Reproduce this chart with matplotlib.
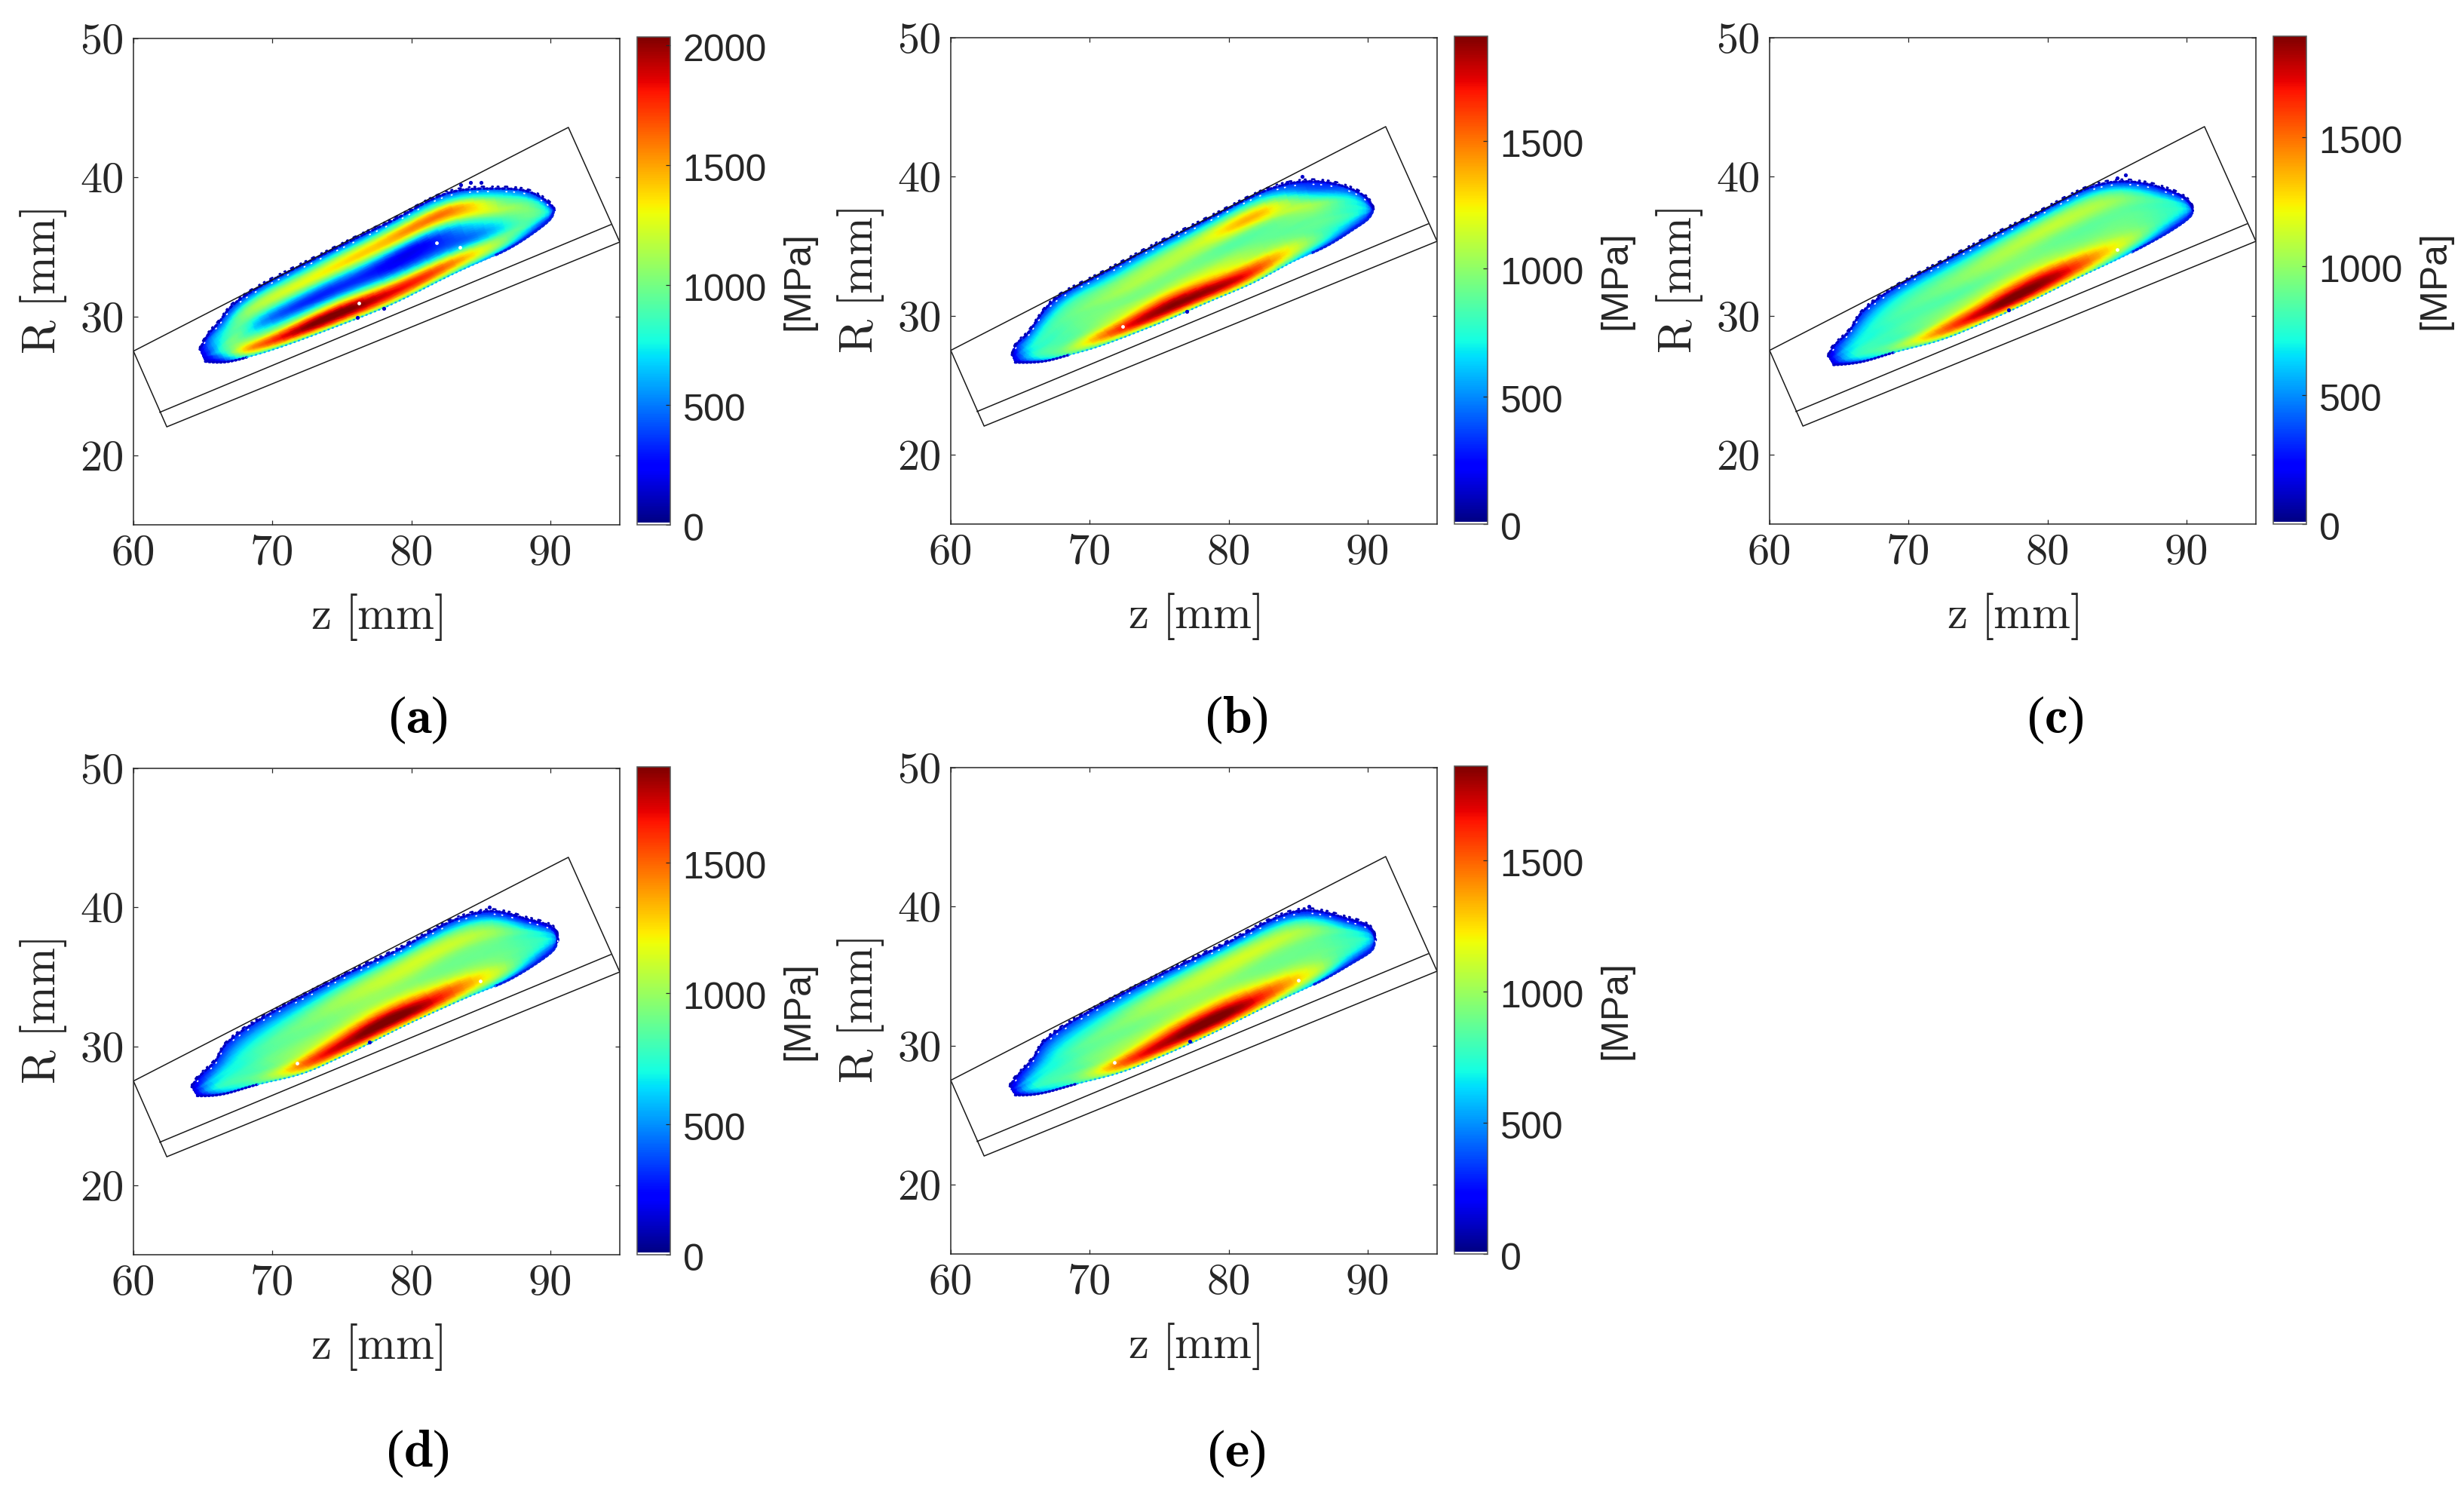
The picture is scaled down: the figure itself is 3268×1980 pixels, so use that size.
import numpy as np
import matplotlib
matplotlib.use('Agg')
import matplotlib.pyplot as plt
import matplotlib.tri as mtri
from matplotlib.transforms import ScaledTranslation

W, H = 3268, 1980

panel_names = ['a', 'b', 'c', 'd', 'e']
vmax_list = [2035, 1910, 1892, 1867, 1858]
xticks = [60, 70, 80, 90]
yticks = [20, 30, 40, 50]
cbar_ticks = [0, 500, 1000, 1500, 2000]

# outline of the box, same in all panels
box_z = [60.0, 91.3, 95.0, 62.4, 60.0]
box_R = [27.5, 43.6, 35.35, 22.05, 27.5]
inner_z = [61.9, 94.35]
inner_R = [23.1, 36.6]

# edges of the stressed region
upper_a = [(64.77, 27.62), (65.45, 28.80), (66.32, 29.80), (67.48, 31.10), (70.10, 32.69), (73.20, 34.23), (76.30, 35.77),
           (79.40, 37.30), (82.49, 38.84), (85.79, 39.20), (88.31, 39.02), (89.86, 38.20), (90.34, 37.66)]
lower_a = [(65.16, 26.75), (66.71, 26.72), (68.16, 27.05), (69.81, 27.53), (72.42, 28.44), (75.52, 29.62), (78.62, 30.88),
           (81.91, 32.51), (84.82, 33.87), (87.14, 34.95), (88.70, 35.95), (89.86, 36.85), (90.24, 37.57)]
upper_b = [(64.40, 27.17), (64.83, 28.08), (65.80, 29.07), (67.35, 31.06), (69.86, 32.51), (72.96, 34.14), (76.06, 35.76),
           (79.16, 37.30), (82.26, 38.84), (85.36, 39.65), (88.07, 39.38), (89.81, 38.57), (90.43, 37.66)]
lower_b = [(64.63, 26.63), (66.76, 26.72), (68.51, 27.17), (70.44, 27.71), (73.16, 28.71), (76.06, 29.89), (79.16, 31.24),
           (82.07, 32.51), (84.78, 33.96), (87.10, 35.04), (88.85, 36.13), (89.91, 36.85), (90.36, 37.48)]
upper_c = [(64.21, 27.08), (64.79, 27.99), (65.86, 29.07), (66.92, 30.52), (69.54, 32.33), (72.64, 33.96), (75.74, 35.58),
           (78.84, 37.12), (81.93, 38.75), (85.03, 39.65), (87.94, 39.29), (89.88, 38.48), (90.50, 37.57)]
lower_c = [(64.60, 26.45), (66.83, 26.72), (68.96, 27.35), (71.47, 27.99), (73.80, 28.80), (76.51, 29.98), (79.22, 31.24),
           (82.13, 32.69), (84.84, 33.96), (87.16, 35.13), (88.91, 36.13), (90.07, 36.94), (90.42, 37.39)]
upper_d = [(64.19, 27.07), (64.87, 27.97), (66.03, 29.15), (67.00, 30.50), (69.90, 32.40), (73.00, 34.03), (75.91, 35.48),
           (79.01, 36.93), (82.30, 38.73), (85.59, 39.73), (87.92, 39.28), (90.05, 38.64), (90.53, 37.56)]
lower_d = [(64.58, 26.43), (66.71, 26.61), (68.94, 27.25), (71.65, 27.88), (73.97, 28.78), (76.49, 29.96), (79.01, 31.23),
           (81.91, 32.58), (84.82, 33.85), (87.14, 34.84), (89.08, 36.02), (90.15, 36.84), (90.44, 37.38)]
upper_e = [(64.25, 27.07), (64.92, 27.97), (66.09, 29.33), (67.05, 30.59), (69.86, 32.40), (72.96, 34.03), (76.06, 35.57),
           (79.16, 37.02), (82.26, 38.64), (85.36, 39.73), (88.07, 39.28), (90.01, 38.64), (90.59, 37.56)]
lower_e = [(64.63, 26.43), (66.76, 26.61), (69.09, 27.25), (71.61, 27.88), (74.12, 28.78), (76.84, 29.96), (79.55, 31.23),
           (82.26, 32.58), (84.97, 33.85), (87.20, 34.94), (89.04, 36.02), (90.20, 36.75), (90.49, 37.38)]

# stress [MPa]: one row per station along the region, lower edge to upper edge
stress_a = [[100, 150, 150, 150, 150, 150, 150, 150, 100],
            [250, 500, 650, 750, 700, 650, 600, 480, 300],
            [700, 1250, 1250, 1050, 1000, 900, 800, 580, 330],
            [800, 1650, 1300, 850, 700, 900, 1050, 750, 330],
            [900, 1950, 1500, 700, 380, 800, 1230, 900, 330],
            [900, 2000, 1700, 750, 320, 700, 1300, 1000, 330],
            [900, 1850, 1400, 550, 280, 680, 1380, 1100, 330],
            [800, 1700, 1100, 400, 220, 600, 1480, 1200, 330],
            [600, 1350, 800, 450, 600, 1100, 1550, 1000, 330],
            [300, 950, 900, 750, 900, 1150, 1100, 800, 330],
            [200, 600, 850, 950, 1000, 1000, 900, 620, 300],
            [150, 350, 550, 650, 700, 650, 550, 380, 200],
            [130, 130, 130, 130, 130, 130, 130, 130, 130]]
stress_b = [[130, 130, 130, 130, 130, 130, 130, 130, 130],
            [300, 650, 750, 750, 700, 650, 550, 430, 300],
            [800, 950, 900, 850, 800, 800, 750, 580, 300],
            [800, 1300, 1050, 900, 900, 900, 850, 630, 300],
            [900, 1700, 1350, 1050, 950, 1000, 950, 720, 320],
            [900, 1850, 1650, 1150, 950, 1050, 1050, 770, 320],
            [1000, 1850, 1500, 1150, 950, 1000, 1100, 850, 320],
            [900, 1650, 1300, 1050, 900, 950, 1280, 1000, 320],
            [650, 1200, 1050, 900, 900, 1050, 1280, 900, 320],
            [300, 800, 850, 900, 950, 1050, 800, 450, 250],
            [200, 550, 750, 800, 800, 800, 700, 470, 250],
            [150, 350, 500, 600, 650, 600, 500, 370, 180],
            [120, 120, 120, 120, 120, 120, 120, 120, 120]]
stress_c = [[130, 130, 130, 130, 130, 130, 130, 130, 130],
            [300, 600, 720, 720, 680, 620, 500, 380, 280],
            [750, 900, 850, 800, 780, 720, 680, 530, 300],
            [800, 1250, 950, 850, 820, 800, 750, 580, 300],
            [900, 1600, 1200, 950, 850, 880, 850, 670, 320],
            [950, 1850, 1450, 1050, 880, 950, 950, 720, 320],
            [1000, 1880, 1650, 1150, 950, 1000, 1050, 800, 320],
            [950, 1650, 1450, 1050, 920, 950, 1100, 900, 320],
            [650, 1250, 1150, 950, 880, 950, 1080, 850, 320],
            [350, 900, 950, 900, 880, 900, 950, 700, 280],
            [200, 550, 750, 800, 800, 800, 700, 470, 250],
            [150, 350, 500, 600, 650, 600, 500, 370, 180],
            [120, 120, 120, 120, 120, 120, 120, 120, 120]]
stress_d = [[120, 120, 120, 120, 120, 120, 120, 120, 120],
            [300, 600, 700, 720, 650, 600, 450, 330, 260],
            [700, 850, 850, 800, 750, 700, 620, 450, 280],
            [850, 1250, 1000, 900, 850, 800, 700, 510, 280],
            [950, 1650, 1250, 1000, 900, 900, 800, 580, 300],
            [950, 1800, 1550, 1100, 950, 980, 950, 670, 300],
            [1050, 1860, 1700, 1200, 1000, 1050, 1050, 760, 300],
            [1000, 1700, 1500, 1100, 950, 1050, 1120, 850, 300],
            [700, 1300, 1200, 950, 900, 1000, 1100, 800, 300],
            [350, 950, 950, 900, 880, 950, 950, 650, 260],
            [200, 550, 750, 800, 800, 780, 680, 450, 240],
            [150, 350, 500, 600, 650, 600, 500, 350, 170],
            [120, 120, 120, 120, 120, 120, 120, 120, 120]]
stress_e = [[120, 120, 120, 120, 120, 120, 120, 120, 120],
            [300, 600, 700, 720, 660, 600, 460, 330, 260],
            [700, 850, 850, 800, 760, 700, 630, 460, 280],
            [850, 1250, 1000, 900, 850, 820, 720, 530, 280],
            [950, 1650, 1250, 1000, 900, 920, 820, 600, 300],
            [950, 1800, 1550, 1100, 950, 1000, 980, 700, 300],
            [1050, 1850, 1680, 1180, 1000, 1050, 1060, 770, 300],
            [1000, 1680, 1480, 1100, 950, 1040, 1120, 850, 300],
            [700, 1300, 1200, 950, 900, 1000, 1100, 800, 300],
            [350, 950, 950, 900, 880, 950, 950, 650, 260],
            [200, 550, 750, 800, 800, 780, 680, 450, 240],
            [150, 350, 500, 600, 650, 600, 500, 350, 170],
            [120, 120, 120, 120, 120, 120, 120, 120, 120]]

# white holes and stray blue points in the cloud
holes = {'a': [(81.82, 35.27), (83.5, 34.99), (76.2, 30.97)],
         'b': [(72.38, 29.22)],
         'c': [(84.99, 34.75)],
         'd': [(84.97, 34.68), (71.78, 28.77)],
         'e': [(85.03, 34.70), (71.80, 28.77)]}
strays = {'a': [(84.24, 39.65), (85.0, 39.65), (83.56, 39.47), (76.1, 29.9), (78.0, 30.6)],
          'b': [(85.3, 40.0), (84.2, 39.6), (77.0, 30.3)],
          'c': [(85.6, 40.1), (85.0, 39.9), (77.2, 30.4)],
          'd': [(85.6, 40.0), (84.9, 39.7), (77.0, 30.3)],
          'e': [(85.8, 40.0), (85.0, 39.7), (77.2, 30.3)]}

uppers = [upper_a, upper_b, upper_c, upper_d, upper_e]
lowers = [lower_a, lower_b, lower_c, lower_d, lower_e]
stresses = [stress_a, stress_b, stress_c, stress_d, stress_e]

# pixel boxes of the panels (left, top)
ax_px = [(177, 51), (1261, 50), (2347, 50), (177, 1019), (1261, 1018)]
ax_size = 645
caption_px = [(554, 955), (1640, 955), (2726, 955), (554, 1928), (1640, 1928)]

plt.rcParams['mathtext.fontset'] = 'cm'
text_color = '#262626'

# jet with a white first entry, as in the colorbar
cols = plt.get_cmap('jet')(np.linspace(0, 1, 256))
cols[0] = [1, 1, 1, 1]
cmap = matplotlib.colors.ListedColormap(cols)

fig = plt.figure(figsize=(W / 100, H / 100), dpi=100)


def box(left, top, w, h):
    return [left / W, 1 - (top + h) / H, w / W, h / H]


for k, name in enumerate(panel_names):
    left, top = ax_px[k]
    ax = fig.add_axes(box(left, top, ax_size, ax_size))

    up = np.array(uppers[k])
    lo = np.array(lowers[k])
    vals = np.array(stresses[k], dtype=float)
    n_st, n_t = vals.shape

    # smooth table and edges in station/across space, then draw in z, R
    I, J = np.meshgrid(np.arange(n_st), np.arange(n_t), indexing='ij')
    t_grid = J / (n_t - 1)
    z_grid = lo[:, 0][:, None] * (1 - t_grid) + up[:, 0][:, None] * t_grid
    R_grid = lo[:, 1][:, None] * (1 - t_grid) + up[:, 1][:, None] * t_grid
    grid_tri = mtri.Triangulation(I.ravel().astype(float), J.ravel().astype(float))
    refiner = mtri.UniformTriRefiner(grid_tri)
    refined, v = refiner.refine_field(vals.ravel(), subdiv=3)
    z = refiner.refine_field(z_grid.ravel(), subdiv=3)[1]
    R = refiner.refine_field(R_grid.ravel(), subdiv=3)[1]
    tri_zr = mtri.Triangulation(z, R, refined.triangles)
    pc = ax.tripcolor(tri_zr, np.clip(v, 40, None), shading='gouraud', cmap=cmap, vmin=0, vmax=vmax_list[k])

    # speckled edge of the cloud
    top_edge = np.where(np.isclose(refined.y, n_t - 1))[0]
    top_edge = top_edge[np.argsort(refined.x[top_edge])]
    low_edge = np.where(np.isclose(refined.y, 0))[0]
    low_edge = low_edge[np.argsort(refined.x[low_edge])]
    ax.plot(z[top_edge], R[top_edge], color='#0000c8', lw=2.4, ls=(0, (0.4, 1.0, 0.9, 1.4, 0.3, 0.8)), dash_capstyle='round')
    ax.plot(z[top_edge], R[top_edge] + 0.14, color='#0000b0', lw=2.0, ls=(0, (0.5, 3.0, 1.2, 3.8, 0.4, 2.2)), dash_capstyle='round')
    ax.plot(z[top_edge], R[top_edge] - 0.22, color='white', lw=1.3, ls=(0, (0.6, 7, 0.6, 13, 0.6, 5)), dash_capstyle='round')
    x_low = refined.x[low_edge]
    part = x_low <= 2
    ax.plot(z[low_edge][part], R[low_edge][part], color='#0000c8', lw=2.4, ls=(0, (0.5, 1.0)), dash_capstyle='round')
    part = x_low >= 8.5
    ax.plot(z[low_edge][part], R[low_edge][part], color='#0020e0', lw=2.4, ls=(0, (0.9, 0.9)), dash_capstyle='round')
    part = (x_low >= 2) & (x_low <= 8.5)
    ax.plot(z[low_edge][part], R[low_edge][part], color='#00b0ff', lw=1.6, ls=(0, (0.5, 2.2)), dash_capstyle='round')
    ax.scatter(*zip(*strays[name]), s=14, color='#0000c8', linewidths=0, zorder=3)
    ax.scatter(*zip(*holes[name]), s=12, color='white', linewidths=0, zorder=3)

    ax.plot(box_z, box_R, color='#1a1a1a', lw=1.1)
    ax.plot(inner_z, inner_R, color='#1a1a1a', lw=1.1)

    ax.set_xlim(60, 95)
    ax.set_ylim(15, 50)
    ax.set_xticks(xticks)
    ax.set_yticks(yticks)
    ax.tick_params(direction='in', top=True, right=True, length=4.5, width=0.9, color=text_color,
                   labelsize=42, labelcolor=text_color, labelfontfamily='cmr10', pad=9)
    for sp in ax.spines.values():
        sp.set_linewidth(1.1)
        sp.set_color(text_color)
    ax.set_xlabel(r'$\mathrm{z}\ [\mathrm{mm}]$', fontsize=44, color=text_color, labelpad=18)
    ax.set_ylabel(r'$\mathrm{R}\ [\mathrm{mm}]$', fontsize=44, color=text_color, labelpad=11)

    cax = fig.add_axes(box(left + 668, top - 2, 44, ax_size + 2))
    cb = fig.colorbar(pc, cax=cax)
    cb.set_ticks([c for c in cbar_ticks if c <= vmax_list[k]])
    cb.ax.tick_params(direction='in', length=4.5, width=0.9, color=text_color, labelsize=36,
                      labelcolor=text_color, pad=12)
    # labels sit a little under their ticks in the reference
    down = ScaledTranslation(0, -3 / 100, fig.dpi_scale_trans)
    for lab in cb.ax.get_yticklabels():
        lab.set_family('Liberation Sans')
        lab.set_transform(lab.get_transform() + down)
    cb.outline.set_linewidth(1.1)
    cb.outline.set_edgecolor('#555555')
    cb.set_label('[MPa]', fontsize=36, color=text_color, family='Liberation Sans', labelpad=14)

    cx, cy = caption_px[k]
    fig.text(cx / W, 1 - cy / H, '($\\mathbf{' + name + '}$)', fontsize=50, family='Liberation Serif',
             color='black', ha='center', va='center')

fig.savefig('out.png', dpi=100, facecolor='white')
